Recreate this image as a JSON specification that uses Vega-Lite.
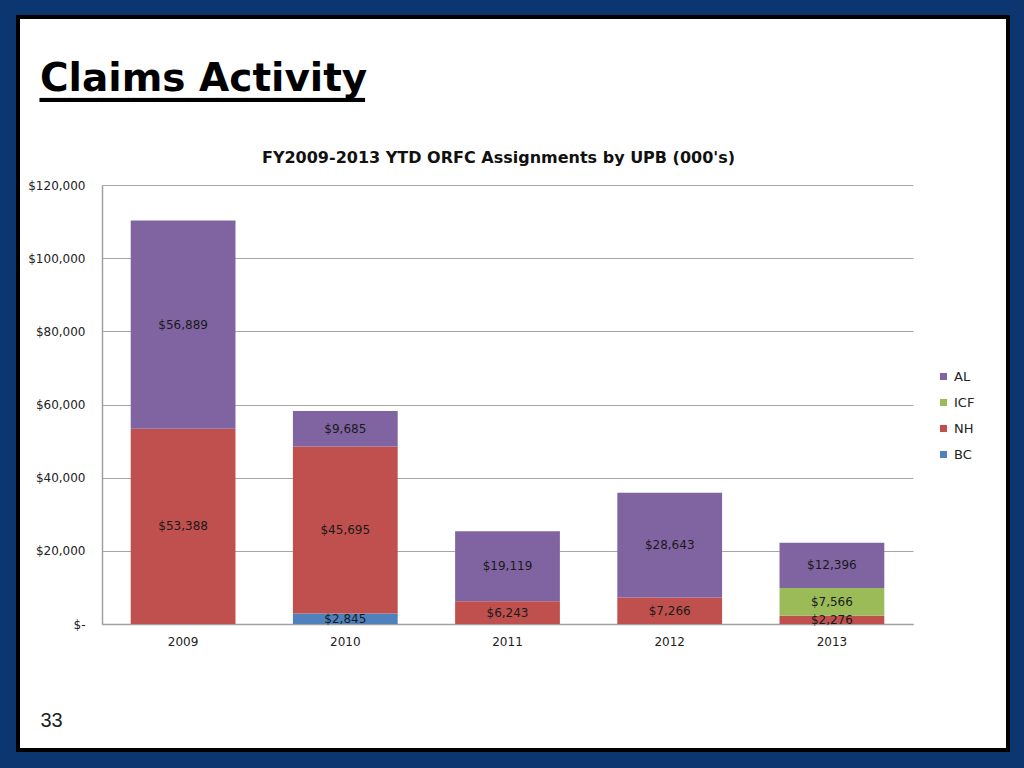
{
  "$schema": "https://vega.github.io/schema/vega-lite/v6.json",
  "width": 990,
  "height": 733,
  "autosize": {"type": "none"},
  "padding": {"left": 18, "top": 17, "right": 16, "bottom": 18},
  "background": "#0c3670",
  "config": {
    "view": {"fill": "white", "stroke": "black", "strokeWidth": 4},
    "font": "DejaVu Sans"
  },
  "title": {
    "text": "Claims Activity",
    "subtitle": "___________",
    "anchor": "start",
    "frame": "group",
    "orient": "top",
    "offset": -101.5,
    "dx": 22,
    "font": "DejaVu Sans",
    "fontSize": 39,
    "fontWeight": "bold",
    "color": "#000000",
    "subtitleFont": "DejaVu Sans",
    "subtitleFontSize": 59,
    "subtitleFontWeight": "normal",
    "subtitleColor": "#000000",
    "subtitlePadding": -58
  },
  "datasets": {
    "seriesOrder": [
      {"series": "BC", "rank": 1},
      {"series": "NH", "rank": 2},
      {"series": "ICF", "rank": 3},
      {"series": "AL", "rank": 4}
    ]
  },
  "data": {
    "values": [
      {"year": "2009", "series": "NH", "value": 53388},
      {"year": "2009", "series": "AL", "value": 56889},
      {"year": "2010", "series": "BC", "value": 2845},
      {"year": "2010", "series": "NH", "value": 45695},
      {"year": "2010", "series": "AL", "value": 9685},
      {"year": "2011", "series": "NH", "value": 6243},
      {"year": "2011", "series": "AL", "value": 19119},
      {"year": "2012", "series": "NH", "value": 7266},
      {"year": "2012", "series": "AL", "value": 28643},
      {"year": "2013", "series": "NH", "value": 2276},
      {"year": "2013", "series": "ICF", "value": 7566},
      {"year": "2013", "series": "AL", "value": 12396}
    ]
  },
  "transform": [
    {"lookup": "series", "from": {"data": {"name": "seriesOrder"}, "key": "series", "fields": ["rank"]}}
  ],
  "encoding": {
    "x": {
      "field": "year",
      "type": "ordinal",
      "scale": {"range": [84, 895], "paddingInner": 0.354, "paddingOuter": 0.177},
      "axis": {
        "title": "33",
        "orient": "bottom",
        "offset": -126,
        "labelAngle": 0,
        "labelPadding": 12,
        "labelFont": "DejaVu Sans",
        "labelFontSize": 12,
        "labelColor": "#222222",
        "ticks": false,
        "domainColor": "#a0a0a0",
        "domainWidth": 1.5,
        "grid": false,
        "titleX": 22,
        "titleY": 96,
        "titleAlign": "left",
        "titleAnchor": "start",
        "titleBaseline": "middle",
        "titleFont": "Liberation Sans",
        "titleFontSize": 20,
        "titleFontWeight": "normal",
        "titleColor": "#222222"
      }
    },
    "order": {"field": "rank", "type": "quantitative", "sort": "ascending"}
  },
  "layer": [
    {
      "mark": {"type": "bar"},
      "encoding": {
        "y": {
          "field": "value",
          "type": "quantitative",
          "stack": "zero",
          "scale": {"domain": [0, 120000], "range": [607, 168], "nice": false},
          "axis": {
            "title": "FY2009-2013 YTD ORFC Assignments by UPB (000's)",
            "offset": -84,
            "values": [0, 20000, 40000, 60000, 80000, 100000, 120000],
            "labelExpr": "datum.value === 0 ? '$-   ' : '$' + format(datum.value, ',')",
            "labelPadding": 17,
            "labelFont": "DejaVu Sans",
            "labelFontSize": 12,
            "labelColor": "#222222",
            "ticks": false,
            "domainColor": "#a0a0a0",
            "domainWidth": 1.5,
            "grid": true,
            "gridColor": "#a6a6a6",
            "gridWidth": 1,
            "titleAngle": 0,
            "titleX": 396,
            "titleY": 140,
            "titleAlign": "center",
            "titleBaseline": "middle",
            "titleFont": "DejaVu Sans",
            "titleFontSize": 16,
            "titleFontWeight": "bold",
            "titleColor": "#111111"
          }
        },
        "color": {
          "field": "series",
          "type": "nominal",
          "scale": {
            "domain": ["BC", "NH", "ICF", "AL"],
            "range": ["#4F81BD", "#C0504D", "#9BBB59", "#8064A2"]
          },
          "legend": {
            "values": ["AL", "ICF", "NH", "BC"],
            "orient": "none",
            "legendX": 919,
            "legendY": 353,
            "title": null,
            "symbolType": "square",
            "symbolSize": 50,
            "symbolStrokeWidth": 0,
            "labelFont": "DejaVu Sans",
            "labelFontSize": 13,
            "labelColor": "#222222",
            "rowPadding": 12,
            "labelOffset": 4,
            "padding": 0
          }
        }
      }
    },
    {
      "mark": {"type": "text", "font": "DejaVu Sans", "fontSize": 12, "baseline": "middle", "color": "#1a1a1a"},
      "encoding": {
        "y": {"field": "value", "type": "quantitative", "stack": "zero", "bandPosition": 0.5},
        "detail": {"field": "series", "type": "nominal"},
        "text": {"field": "value", "type": "quantitative", "format": "$,.0f"}
      }
    }
  ]
}
